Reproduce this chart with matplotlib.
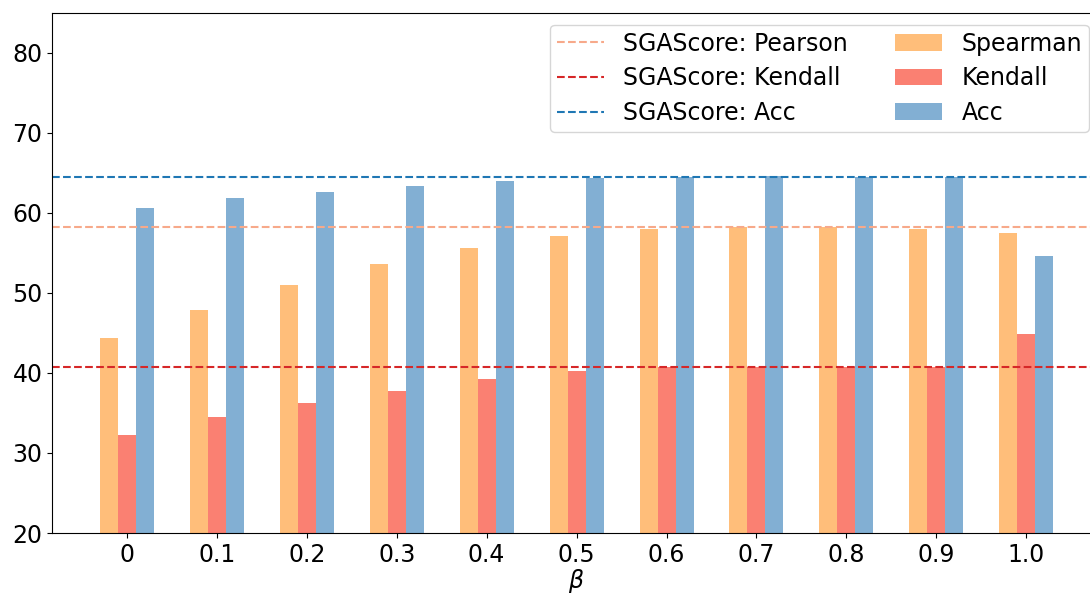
import numpy as np
import matplotlib
matplotlib.use("Agg")
import matplotlib.pyplot as plt

plt.rcParams.update({"font.size": 17})

betas = ["0", "0.1", "0.2", "0.3", "0.4", "0.5", "0.6", "0.7", "0.8", "0.9", "1.0"]
spearman = [44.3, 47.9, 51.0, 53.6, 55.6, 57.1, 58.0, 58.2, 58.2, 58.0, 57.5]
kendall = [32.3, 34.5, 36.3, 37.8, 39.2, 40.2, 40.7, 40.8, 40.8, 40.8, 44.8]
acc = [60.6, 61.8, 62.6, 63.3, 64.0, 64.3, 64.45, 64.6, 64.5, 64.5, 54.6]

# SGAScore reference lines
sga_pearson, sga_kendall, sga_acc = 58.2, 40.8, 64.5

fig = plt.figure(figsize=(10.9, 5.96), dpi=100)
ax = fig.add_axes([0.048, 0.1057, 0.962, 0.8730])

x = np.arange(len(betas))
w = 0.2
ax.axhline(sga_pearson, ls="--", color="#F7A98A", lw=1.5, label="SGAScore: Pearson")
ax.axhline(sga_kendall, ls="--", color="#D62728", lw=1.5, label="SGAScore: Kendall")
ax.axhline(sga_acc, ls="--", color="#1F77B4", lw=1.5, label="SGAScore: Acc")
ax.bar(x - w, spearman, w, color="#FFBE7A", label="Spearman")
ax.bar(x, kendall, w, color="#FA8072", label="Kendall")
ax.bar(x + w, acc, w, color="#82AFD3", label="Acc")

ax.set_ylim(20, 85)
ax.set_xticks(x)
ax.set_xticklabels(betas)
ax.set_xlabel(r"$\beta$", labelpad=0)
ax.legend(loc="upper right", ncol=2, fontsize=17, labelspacing=0.45, borderpad=0.3)

fig.savefig("out.png", dpi=100)
